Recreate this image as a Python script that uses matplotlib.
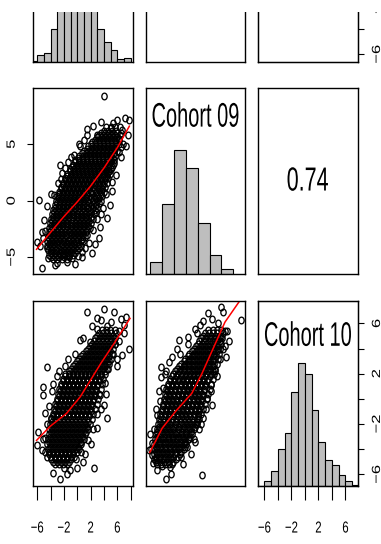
import matplotlib
matplotlib.use('Agg')
import matplotlib.pyplot as plt
from matplotlib import patheffects
from matplotlib.path import Path
from matplotlib.transforms import Affine2D
from matplotlib.patches import Rectangle

plt.rcParams['font.family'] = ['Liberation Sans', 'DejaVu Sans']

W, H = 381, 544

# axis ranges of the three variables
lim08 = (-6.6, 8.3)
lim09x = (-6.8, 10.0)
lim09y = (-6.45, 9.95)
lim10 = (-6.95, 7.78)

# histograms (bar heights relative to the tallest bar)
breaks08 = [-7, -6, -5, -4, -3, -2, -1, 0, 1, 2, 3, 4, 5, 6, 7, 8]
counts08 = [1, 8, 11, 40, 82, 117, 140, 150, 132, 90, 40, 24, 14, 3, 5]
breaks09 = [-6, -4, -2, 0, 2, 4, 6, 8]
counts09 = [32, 185, 330, 283, 134, 51, 12]
breaks10 = [-7, -6, -5, -4, -3, -2, -1, 0, 1, 2, 3, 4, 5, 6, 7, 8]
counts10 = [1, 7, 22, 54, 77, 137, 180, 163, 111, 64, 38, 31, 16, 7, 2]

labels = ['Cohort 08', 'Cohort 09', 'Cohort 10']
corr_09_10 = '0.74'

# Cohort 08 (x) vs Cohort 09 (y): dense core read row by row (y, [x ...])
core_08_09 = [
    (-5.2, [-3.6, -3.0, -2.3, -1.5]),
    (-5.0, [-4.0, -3.3, -2.7, -2.0, -1.2]),
    (-4.8, [-4.3, -3.7, -3.1, -2.4, -1.8, -1.2, -0.6]),
    (-4.6, [-4.0, -3.4, -2.8, -2.1, -1.5, -0.9, -0.3]),
    (-4.4, [-4.4, -3.8, -3.2, -2.5, -1.9, -1.3, -0.6, 0.0]),
    (-4.2, [-4.1, -3.5, -2.9, -2.2, -1.6, -1.0, -0.3, 0.3]),
    (-4.0, [-4.5, -3.9, -3.3, -2.6, -2.0, -1.4, -0.8, -0.1, 0.5]),
    (-3.8, [-4.2, -3.6, -3.0, -2.3, -1.7, -1.1, -0.5, 0.2]),
    (-3.6, [-4.6, -3.9, -3.3, -2.7, -2.1, -1.4, -0.8, -0.2, 0.5, 0.9]),
    (-3.4, [-4.3, -3.6, -3.0, -2.4, -1.8, -1.1, -0.5, 0.1, 0.7]),
    (-3.2, [-4.4, -3.8, -3.2, -2.6, -2.0, -1.4, -0.7, -0.1, 0.5, 1.2]),
    (-3.0, [-4.1, -3.5, -2.9, -2.3, -1.7, -1.0, -0.4, 0.2, 0.8]),
    (-2.8, [-4.3, -3.7, -3.1, -2.5, -1.9, -1.2, -0.6, 0.0, 0.6, 1.3]),
    (-2.6, [-4.0, -3.4, -2.8, -2.2, -1.6, -0.9, -0.3, 0.3, 0.9, 1.5]),
    (-2.4, [-4.2, -3.6, -3.0, -2.4, -1.8, -1.1, -0.5, 0.1, 0.7, 1.3, 1.9]),
    (-2.2, [-3.9, -3.3, -2.7, -2.1, -1.5, -0.8, -0.2, 0.4, 1.0, 1.6]),
    (-2.0, [-4.1, -3.5, -2.9, -2.3, -1.7, -1.0, -0.4, 0.2, 0.8, 1.4, 2.1]),
    (-1.8, [-3.8, -3.2, -2.6, -2.0, -1.4, -0.7, -0.1, 0.5, 1.1, 1.7]),
    (-1.6, [-3.9, -3.3, -2.7, -2.1, -1.5, -0.9, -0.2, 0.4, 1.0, 1.6, 2.4]),
    (-1.4, [-3.6, -3.0, -2.4, -1.8, -1.2, -0.6, 0.1, 0.7, 1.3, 2.0]),
    (-1.2, [-3.8, -3.2, -2.6, -2.0, -1.4, -0.8, -0.1, 0.5, 1.1, 1.7, 2.5]),
    (-1.0, [-3.5, -2.9, -2.3, -1.7, -1.1, -0.5, 0.2, 0.8, 1.4, 2.1, 2.8]),
    (-0.8, [-3.6, -3.0, -2.4, -1.8, -1.2, -0.6, 0.0, 0.6, 1.2, 1.9, 2.6]),
    (-0.6, [-3.3, -2.7, -2.1, -1.5, -0.9, -0.3, 0.3, 0.9, 1.6, 2.3, 3.0]),
    (-0.4, [-3.4, -2.8, -2.2, -1.6, -1.0, -0.4, 0.2, 0.8, 1.4, 2.1, 2.8]),
    (-0.2, [-3.1, -2.5, -1.9, -1.3, -0.7, -0.1, 0.5, 1.1, 1.8, 2.5, 3.2]),
    (0.0, [-3.2, -2.6, -2.0, -1.4, -0.8, -0.2, 0.4, 1.0, 1.6, 2.3, 3.0, 3.5]),
    (0.2, [-2.9, -2.3, -1.7, -1.1, -0.5, 0.1, 0.7, 1.3, 2.0, 2.7, 3.3]),
    (0.4, [-3.0, -2.4, -1.8, -1.2, -0.6, 0.0, 0.6, 1.2, 1.8, 2.5, 3.1, 3.7]),
    (0.6, [-2.7, -2.1, -1.5, -0.9, -0.3, 0.3, 0.9, 1.5, 2.2, 2.9, 3.5]),
    (0.8, [-2.7, -2.1, -1.5, -0.9, -0.3, 0.3, 0.9, 1.5, 2.1, 2.8, 3.4, 4.0]),
    (1.0, [-2.4, -1.8, -1.2, -0.6, 0.0, 0.6, 1.2, 1.8, 2.5, 3.1, 3.7]),
    (1.2, [-2.4, -1.8, -1.2, -0.6, 0.0, 0.6, 1.2, 1.8, 2.4, 3.0, 3.6, 4.2]),
    (1.4, [-2.1, -1.5, -0.9, -0.3, 0.3, 0.9, 1.5, 2.1, 2.7, 3.3, 3.9]),
    (1.6, [-2.1, -1.5, -0.9, -0.3, 0.3, 0.9, 1.5, 2.1, 2.7, 3.3, 3.9, 4.4]),
    (1.8, [-1.8, -1.2, -0.6, 0.0, 0.6, 1.2, 1.8, 2.4, 3.0, 3.6, 4.2]),
    (2.0, [-1.8, -1.2, -0.6, 0.0, 0.6, 1.2, 1.8, 2.4, 3.0, 3.6, 4.2, 4.6]),
    (2.2, [-1.5, -0.9, -0.3, 0.3, 0.9, 1.5, 2.1, 2.7, 3.3, 3.9, 4.5]),
    (2.4, [-1.5, -0.9, -0.3, 0.3, 0.9, 1.5, 2.1, 2.7, 3.3, 3.9, 4.5, 4.9]),
    (2.6, [-1.1, -0.5, 0.1, 0.7, 1.3, 1.9, 2.5, 3.1, 3.7, 4.3, 4.8]),
    (2.8, [-1.1, -0.5, 0.1, 0.7, 1.3, 1.9, 2.5, 3.1, 3.7, 4.3, 5.0]),
    (3.0, [-0.8, -0.2, 0.4, 1.0, 1.6, 2.2, 2.8, 3.4, 4.0, 4.6, 5.2]),
    (3.2, [-0.7, -0.1, 0.5, 1.1, 1.7, 2.3, 2.9, 3.5, 4.1, 4.7, 5.3]),
    (3.4, [-0.4, 0.2, 0.8, 1.4, 2.0, 2.6, 3.2, 3.8, 4.4, 5.0]),
    (3.6, [-0.3, 0.3, 0.9, 1.5, 2.1, 2.7, 3.3, 3.9, 4.5, 5.1, 5.5]),
    (3.8, [0.1, 0.7, 1.3, 1.9, 2.5, 3.1, 3.7, 4.3, 4.9, 5.4]),
    (4.0, [0.3, 0.9, 1.5, 2.1, 2.7, 3.3, 3.9, 4.5, 5.1, 5.7]),
    (4.2, [0.7, 1.3, 1.9, 2.5, 3.1, 3.7, 4.3, 4.9, 5.5]),
    (4.4, [1.0, 1.6, 2.2, 2.8, 3.4, 4.0, 4.6, 5.2, 5.9]),
    (4.6, [1.4, 2.0, 2.6, 3.2, 3.8, 4.4, 5.0, 5.6]),
    (4.8, [1.6, 2.2, 2.8, 3.4, 4.0, 4.6, 5.2, 5.8]),
    (5.0, [2.0, 2.6, 3.2, 3.8, 4.4, 5.0, 5.6, 6.2]),
    (5.2, [2.2, 2.8, 3.4, 4.0, 4.6, 5.2, 5.8]),
    (5.4, [2.6, 3.2, 3.8, 4.4, 5.0, 5.6, 6.3]),
    (5.6, [2.9, 3.5, 4.1, 4.7, 5.3, 5.9]),
    (5.8, [3.3, 3.9, 4.5, 5.1, 5.7, 6.4]),
    (6.0, [3.5, 4.1, 4.7, 5.3, 5.9, 6.6]),
    (6.2, [4.0, 4.6, 5.2, 5.8]),
    (6.5, [4.3, 5.0, 5.7, 6.4]),
]
x_08_09 = [4.07, -5.7, -5.34, -6.1, -4.99, -4.84, 0.7, 2.21, -0.81, -2.07, -4.33,
           4.48, 3.47, 5.74, 1.46, -0.56, -2.32, 6.0, 7.75, 7.6, 6.5, 6.24, 5.48,
           4.98, 2.97, 5.5, 3.9, 3.2, 2.6, 1.5, -4.6, -3.9, -2.9, -2.6, -1.4, 0.4,
           1.0, 6.7, 7.2, 5.3, 6.3, 6.9, 4.7, 5.2, 4.3, 3.6, -5.3, -5.6, -3.0, -1.6,
           0.1, 1.2, -4.6, -5.2, -3.5, -2.5, -1.9, -0.9, 0.2, 1.4, 2.4, 3.6, 5.2, 4.9,
           3.0, 2.3, 1.8, 0.7, -0.4, -3.3, 6.6, 7.3]
y_08_09 = [9.29, 0.06, -5.93, -3.63, -1.71, -2.65, -4.51, -4.66, -5.1, -4.8, -5.04,
           -1.5, -2.3, 2.27, 6.31, 4.04, 2.42, 7.14, 7.14, 5.81, 4.78, 4.34, 4.63,
           6.4, 5.81, 3.3, -0.6, -3.3, -3.8, -3.0, -0.5, 0.6, 1.6, 3.2, 3.4, 4.8,
           5.4, 6.3, 7.3, 6.9, 5.5, 5.0, 2.6, 1.7, 0.6, -1.2, -2.8, -4.0, -5.5, -5.4,
           -4.9, -4.2, -4.2, -3.3, 0.5, 1.9, 2.9, 3.9, 5.0, 5.8, 6.6, 7.0, 0.9, -0.4,
           -1.6, -2.6, -3.7, -5.0, -5.6, -5.7, 3.9, 4.8]
smooth_x_08_09 = [-6.1, -4.0, -2.0, 0.0, 2.0, 4.0, 6.0, 7.8]
smooth_y_08_09 = [-4.3, -2.8, -1.4, -0.1, 1.3, 2.9, 4.7, 6.6]

# Cohort 08 (x) vs Cohort 10 (y)
core_08_10 = [
    (-5.2, [-3.4, -2.8, -2.2, -1.6]),
    (-5.0, [-3.7, -3.1, -2.5, -1.9, -1.3]),
    (-4.8, [-3.9, -3.3, -2.7, -2.1, -1.5, -0.9]),
    (-4.6, [-4.0, -3.4, -2.8, -2.2, -1.6, -1.0, -0.5]),
    (-4.4, [-4.2, -3.6, -3.0, -2.4, -1.8, -1.2, -0.6]),
    (-4.2, [-4.3, -3.7, -3.1, -2.5, -1.9, -1.3, -0.7, -0.1]),
    (-4.0, [-4.4, -3.8, -3.2, -2.6, -2.0, -1.4, -0.8, -0.2, 0.2]),
    (-3.8, [-4.1, -3.5, -2.9, -2.3, -1.7, -1.1, -0.5, 0.1]),
    (-3.6, [-4.5, -3.9, -3.3, -2.7, -2.1, -1.5, -0.9, -0.3, 0.3, 0.6]),
    (-3.4, [-4.2, -3.6, -3.0, -2.4, -1.8, -1.2, -0.6, 0.0, 0.6]),
    (-3.2, [-4.4, -3.8, -3.2, -2.6, -2.0, -1.4, -0.8, -0.2, 0.4, 1.0]),
    (-3.0, [-4.1, -3.5, -2.9, -2.3, -1.7, -1.1, -0.5, 0.1, 0.7]),
    (-2.8, [-4.3, -3.7, -3.1, -2.5, -1.9, -1.3, -0.7, -0.1, 0.5, 1.1]),
    (-2.6, [-4.0, -3.4, -2.8, -2.2, -1.6, -1.0, -0.4, 0.2, 0.8, 1.3]),
    (-2.4, [-4.2, -3.6, -3.0, -2.4, -1.8, -1.2, -0.6, 0.0, 0.6, 1.2, 1.6]),
    (-2.2, [-3.9, -3.3, -2.7, -2.1, -1.5, -0.9, -0.3, 0.3, 0.9, 1.5]),
    (-2.0, [-4.1, -3.5, -2.9, -2.3, -1.7, -1.1, -0.5, 0.1, 0.7, 1.3, 1.9]),
    (-1.8, [-3.8, -3.2, -2.6, -2.0, -1.4, -0.8, -0.2, 0.4, 1.0, 1.6]),
    (-1.6, [-3.9, -3.3, -2.7, -2.1, -1.5, -0.9, -0.3, 0.3, 0.9, 1.5, 2.2]),
    (-1.4, [-3.6, -3.0, -2.4, -1.8, -1.2, -0.6, 0.0, 0.6, 1.2, 1.8]),
    (-1.2, [-3.7, -3.1, -2.5, -1.9, -1.3, -0.7, -0.1, 0.5, 1.1, 1.7, 2.4]),
    (-1.0, [-3.4, -2.8, -2.2, -1.6, -1.0, -0.4, 0.2, 0.8, 1.4, 2.0]),
    (-0.8, [-3.5, -2.9, -2.3, -1.7, -1.1, -0.5, 0.1, 0.7, 1.3, 1.9, 2.6]),
    (-0.6, [-3.2, -2.6, -2.0, -1.4, -0.8, -0.2, 0.4, 1.0, 1.6, 2.2]),
    (-0.4, [-3.3, -2.7, -2.1, -1.5, -0.9, -0.3, 0.3, 0.9, 1.5, 2.1, 2.9]),
    (-0.2, [-3.0, -2.4, -1.8, -1.2, -0.6, 0.0, 0.6, 1.2, 1.8, 2.4]),
    (0.0, [-3.1, -2.5, -1.9, -1.3, -0.7, -0.1, 0.5, 1.1, 1.7, 2.3, 3.1]),
    (0.2, [-2.8, -2.2, -1.6, -1.0, -0.4, 0.2, 0.8, 1.4, 2.0, 2.6]),
    (0.4, [-2.9, -2.3, -1.7, -1.1, -0.5, 0.1, 0.7, 1.3, 1.9, 2.5, 3.3]),
    (0.6, [-2.6, -2.0, -1.4, -0.8, -0.2, 0.4, 1.0, 1.6, 2.2, 2.8]),
    (0.8, [-2.7, -2.1, -1.5, -0.9, -0.3, 0.3, 0.9, 1.5, 2.1, 2.7, 3.5]),
    (1.0, [-2.4, -1.8, -1.2, -0.6, 0.0, 0.6, 1.2, 1.8, 2.4, 3.0]),
    (1.2, [-2.5, -1.9, -1.3, -0.7, -0.1, 0.5, 1.1, 1.7, 2.3, 2.9, 3.7]),
    (1.4, [-2.2, -1.6, -1.0, -0.4, 0.2, 0.8, 1.4, 2.0, 2.6, 3.2]),
    (1.6, [-2.2, -1.6, -1.0, -0.4, 0.2, 0.8, 1.4, 2.0, 2.6, 3.2, 3.9]),
    (1.8, [-1.9, -1.3, -0.7, -0.1, 0.5, 1.1, 1.7, 2.3, 2.9, 3.5]),
    (2.0, [-1.8, -1.2, -0.6, 0.0, 0.6, 1.2, 1.8, 2.4, 3.0, 3.6, 4.2]),
    (2.2, [-1.3, -0.7, -0.1, 0.5, 1.1, 1.7, 2.3, 2.9, 3.5, 4.1]),
    (2.4, [-1.0, -0.4, 0.2, 0.8, 1.4, 2.0, 2.6, 3.2, 3.8, 4.5]),
    (2.6, [-0.6, 0.0, 0.6, 1.2, 1.8, 2.4, 3.0, 3.6, 4.2]),
    (2.8, [-0.3, 0.3, 0.9, 1.5, 2.1, 2.7, 3.3, 3.9, 4.5, 4.8]),
    (3.0, [0.0, 0.6, 1.2, 1.8, 2.4, 3.0, 3.6, 4.2, 4.8]),
    (3.2, [0.3, 0.9, 1.5, 2.1, 2.7, 3.3, 3.9, 4.5, 5.0]),
    (3.4, [0.6, 1.2, 1.8, 2.4, 3.0, 3.6, 4.2, 4.8]),
    (3.6, [0.9, 1.5, 2.1, 2.7, 3.3, 3.9, 4.5, 5.2]),
    (3.8, [1.3, 1.9, 2.5, 3.1, 3.7, 4.3, 4.9]),
    (4.0, [1.6, 2.2, 2.8, 3.4, 4.0, 4.6, 5.4]),
    (4.2, [1.9, 2.5, 3.1, 3.7, 4.3, 4.9]),
    (4.4, [2.2, 2.8, 3.4, 4.0, 4.6, 5.2, 5.6]),
    (4.6, [2.5, 3.1, 3.7, 4.3, 4.9, 5.5]),
    (4.8, [2.7, 3.3, 3.9, 4.5, 5.1, 5.7]),
    (5.0, [3.0, 3.6, 4.2, 4.8, 5.4]),
    (5.2, [3.2, 3.8, 4.4, 5.0, 5.8]),
    (5.5, [3.7, 4.3, 4.9, 5.6]),
]
x_08_10 = [1.46, 4.07, 5.48, 6.49, 7.25, 2.97, 4.4, 0.45, -4.59, -5.09, -5.09, -4.84,
           -5.84, -6.1, -5.34, -3.58, -2.57, -1.06, 2.46, 4.48, 3.97, 6.0, 6.74, 7.75,
           5.6, 1.96, 6.2, 7.0, 5.0, 3.6, -1.8, -3.0, -3.8, -4.3, -4.6, -4.8, -4.5,
           -0.2, 0.5, 1.6, 2.4, 3.0, 3.4, 4.1, 4.6, 5.3, 0.9, -2.0, -4.8, -5.2, -4.0,
           -3.6, -2.8, -1.4, -0.4, 0.8, 2.2, 3.0, 4.3, 3.6, 2.9, 2.0, 1.2, -0.1, -1.5,
           6.3, 5.9, 7.0]
y_08_10 = [6.9, 7.17, 6.9, 6.37, 6.5, 5.58, 5.8, 4.66, 2.55, 0.96, 0.3, -1.15,
           -2.6, -3.65, -4.05, -5.9, -6.37, -5.64, -5.5, -1.54, -0.49, 3.2, 3.47, 4.0,
           4.4, 4.5, 5.4, 5.9, 6.1, 6.3, 2.6, 1.8, 0.6, -0.6, -2.0, -3.1, -4.6,
           -4.8, -4.2, -3.3, -2.4, -1.2, 0.3, 1.3, 2.4, 3.6, -5.0, -5.5, -4.2, -3.2,
           -1.5, 1.2, 2.2, 3.2, 3.6, 4.8, 5.8, 6.4, 0.4, -0.8, -2.3, -3.6, -4.4, -5.5,
           -6.0, 4.6, 2.6, 5.2]
smooth_x_08_10 = [-6.1, -4.1, -1.6, 0.45, 2.0, 3.5, 5.5, 7.9]
smooth_y_08_10 = [-3.3, -2.2, -1.15, 0.17, 1.5, 2.8, 4.4, 6.4]

# Cohort 09 (x) vs Cohort 10 (y)
core_09_10 = [
    (-5.2, [-4.9, -4.2, -3.5, -2.8, -2.3]),
    (-5.0, [-5.1, -4.4, -3.7, -3.0, -2.1]),
    (-4.8, [-5.3, -4.6, -3.9, -3.2, -2.5, -1.6]),
    (-4.6, [-5.0, -4.3, -3.6, -2.9, -2.2, -1.4]),
    (-4.4, [-5.4, -4.7, -4.0, -3.3, -2.6, -1.9, -1.0]),
    (-4.2, [-5.1, -4.4, -3.7, -3.0, -2.3, -1.6, -0.8]),
    (-4.0, [-5.4, -4.7, -4.0, -3.3, -2.6, -1.9, -1.2, -0.4]),
    (-3.8, [-5.0, -4.3, -3.6, -2.9, -2.2, -1.5, -0.8, -0.2]),
    (-3.6, [-5.3, -4.6, -3.9, -3.2, -2.5, -1.8, -1.1, -0.4, 0.1]),
    (-3.4, [-5.0, -4.3, -3.6, -2.9, -2.2, -1.5, -0.8, -0.1]),
    (-3.2, [-5.2, -4.5, -3.8, -3.1, -2.4, -1.7, -1.0, -0.3, 0.4, 0.6]),
    (-3.0, [-4.9, -4.2, -3.5, -2.8, -2.1, -1.4, -0.7, 0.0, 0.7]),
    (-2.8, [-5.1, -4.4, -3.7, -3.0, -2.3, -1.6, -0.9, -0.2, 0.5, 1.0]),
    (-2.6, [-4.8, -4.1, -3.4, -2.7, -2.0, -1.3, -0.6, 0.1, 0.8]),
    (-2.4, [-4.9, -4.2, -3.5, -2.8, -2.1, -1.4, -0.7, 0.0, 0.7, 1.4]),
    (-2.2, [-4.6, -3.9, -3.2, -2.5, -1.8, -1.1, -0.4, 0.3, 1.0, 1.6]),
    (-2.0, [-4.7, -4.0, -3.3, -2.6, -1.9, -1.2, -0.5, 0.2, 0.9, 1.6, 1.9]),
    (-1.8, [-4.4, -3.7, -3.0, -2.3, -1.6, -0.9, -0.2, 0.5, 1.2, 1.9]),
    (-1.6, [-4.5, -3.8, -3.1, -2.4, -1.7, -1.0, -0.3, 0.4, 1.1, 1.8, 2.3]),
    (-1.4, [-4.2, -3.5, -2.8, -2.1, -1.4, -0.7, 0.0, 0.7, 1.4, 2.1]),
    (-1.2, [-4.3, -3.6, -2.9, -2.2, -1.5, -0.8, -0.1, 0.6, 1.3, 2.0, 2.6]),
    (-1.0, [-4.0, -3.3, -2.6, -1.9, -1.2, -0.5, 0.2, 0.9, 1.6, 2.3]),
    (-0.8, [-4.1, -3.4, -2.7, -2.0, -1.3, -0.6, 0.1, 0.8, 1.5, 2.2, 2.9]),
    (-0.6, [-3.8, -3.1, -2.4, -1.7, -1.0, -0.3, 0.4, 1.1, 1.8, 2.5]),
    (-0.4, [-3.9, -3.2, -2.5, -1.8, -1.1, -0.4, 0.3, 1.0, 1.7, 2.4, 3.2]),
    (-0.2, [-3.6, -2.9, -2.2, -1.5, -0.8, -0.1, 0.6, 1.3, 2.0, 2.7]),
    (0.0, [-3.7, -3.0, -2.3, -1.6, -0.9, -0.2, 0.5, 1.2, 1.9, 2.6, 3.5]),
    (0.2, [-3.4, -2.7, -2.0, -1.3, -0.6, 0.1, 0.8, 1.5, 2.2, 2.9]),
    (0.4, [-3.5, -2.8, -2.1, -1.4, -0.7, 0.0, 0.7, 1.4, 2.1, 2.8, 3.8]),
    (0.6, [-3.2, -2.5, -1.8, -1.1, -0.4, 0.3, 1.0, 1.7, 2.4, 3.1]),
    (0.8, [-3.3, -2.6, -1.9, -1.2, -0.5, 0.2, 0.9, 1.6, 2.3, 3.0, 4.0]),
    (1.0, [-3.0, -2.3, -1.6, -0.9, -0.2, 0.5, 1.2, 1.9, 2.6, 3.3]),
    (1.2, [-3.0, -2.3, -1.6, -0.9, -0.2, 0.5, 1.2, 1.9, 2.6, 3.3, 4.3]),
    (1.4, [-2.7, -2.0, -1.3, -0.6, 0.1, 0.8, 1.5, 2.2, 2.9, 3.6]),
    (1.6, [-2.6, -1.9, -1.2, -0.5, 0.2, 0.9, 1.6, 2.3, 3.0, 3.7, 4.5]),
    (1.8, [-2.3, -1.6, -0.9, -0.2, 0.5, 1.2, 1.9, 2.6, 3.3, 4.0]),
    (2.0, [-2.1, -1.4, -0.7, 0.0, 0.7, 1.4, 2.1, 2.8, 3.5, 4.2, 4.7]),
    (2.2, [-1.8, -1.1, -0.4, 0.3, 1.0, 1.7, 2.4, 3.1, 3.8, 4.5]),
    (2.4, [-1.5, -0.8, -0.1, 0.6, 1.3, 2.0, 2.7, 3.4, 4.1, 5.0]),
    (2.6, [-1.1, -0.4, 0.3, 1.0, 1.7, 2.4, 3.1, 3.8, 4.5]),
    (2.8, [-0.8, -0.1, 0.6, 1.3, 2.0, 2.7, 3.4, 4.1, 4.8, 5.2]),
    (3.0, [-0.4, 0.3, 1.0, 1.7, 2.4, 3.1, 3.8, 4.5]),
    (3.2, [-0.1, 0.6, 1.3, 2.0, 2.7, 3.4, 4.1, 4.8, 5.4]),
    (3.4, [0.3, 1.0, 1.7, 2.4, 3.1, 3.8, 4.5, 5.1]),
    (3.6, [0.6, 1.3, 2.0, 2.7, 3.4, 4.1, 4.8, 5.6]),
    (3.8, [1.0, 1.7, 2.4, 3.1, 3.8, 4.5, 5.2]),
    (4.0, [1.3, 2.0, 2.7, 3.4, 4.1, 4.8, 5.5, 5.8]),
    (4.2, [1.7, 2.4, 3.1, 3.8, 4.5, 5.2]),
    (4.4, [2.0, 2.7, 3.4, 4.1, 4.8, 5.5, 6.0]),
    (4.6, [2.3, 3.0, 3.7, 4.4, 5.1, 5.8]),
    (4.8, [2.6, 3.3, 4.0, 4.7, 5.4, 6.1]),
    (5.0, [2.9, 3.6, 4.3, 5.0, 5.7]),
    (5.2, [3.2, 3.9, 4.6, 5.3, 6.2]),
    (5.5, [3.8, 4.5, 5.2, 5.9]),
]
x_09_10 = [9.34, 6.01, 6.29, 4.35, 1.57, -1.2, -1.48, -4.25, -4.25, 6.84, 4.35, -6.19,
           -4.8, -3.42, 2.68, -5.08, 5.4, 6.6, 7.3, 5.9, 6.3, 2.4, 0.3, -2.3, -3.4,
           -3.8, -4.4, -4.9, -5.4, -5.7, -5.8, -4.0, -2.6, -0.8, 0.2, 1.4, 2.2, 2.9,
           3.6, 4.3, 5.0, 5.8, -5.6, -2.5, -5.9, -6.0, -5.1, -4.6, -3.6, -2.8, -1.0,
           0.4, 1.8, 2.9, 3.8, 5.2, 4.3, 3.4, 2.6, 1.6, 0.8, -0.5, 7.0, 6.6]
y_09_10 = [6.3, 7.3, 6.9, 6.37, 5.58, 4.66, 4.0, 2.55, 1.75, 3.34, -0.49, -4.05,
           -5.63, -6.37, -6.03, -4.84, 6.0, 5.4, 4.6, 4.9, 4.0, 5.9, 4.4, 3.3, 2.2,
           0.9, -0.2, -1.3, -2.4, -3.5, -4.5, -5.3, -5.4, -4.6, -3.8, -3.2, -2.4, -1.5,
           0.1, 1.1, 2.2, 3.2, -5.1, -6.0, -4.0, -2.8, -0.8, 0.6, 2.0, 2.9, 3.6,
           4.9, 5.2, 6.2, 6.8, 1.8, 0.6, -0.8, -2.0, -3.4, -4.4, -5.2, 5.4, 4.2]
smooth_x_09_10 = [-6.1, -4.0, -1.75, 1.0, 2.7, 4.6, 6.6, 9.06]
smooth_y_09_10 = [-4.26, -2.33, -1.0, 0.44, 2.0, 4.0, 6.1, 7.77]

# panel geometry in pixels
col_left = [33.2, 145.6, 258.0]
row_top = [-123.6, 88.3, 301.0]
PW, PH = 99.5, 185.3


class Stretch(patheffects.AbstractPathEffect):
    """The reference picture is stretched upwards; stretch glyphs the same way."""

    def __init__(self, sy):
        super().__init__()
        self.sy = sy

    def draw_path(self, renderer, gc, tpath, affine, rgbFace=None):
        box = tpath.get_extents(affine)
        cy = (box.y0 + box.y1) / 2
        extra = Affine2D().translate(0, -cy).scale(1, self.sy).translate(0, cy)
        renderer.draw_path(gc, tpath, affine + extra, rgbFace)


fig = plt.figure(figsize=(W / 100, H / 100), dpi=100)
ring = Path.unit_circle().transformed(Affine2D().scale(1.0, 1.25))


def panel(row, col):
    ax = fig.add_axes([col_left[col] / W, 1 - (row_top[row] + PH) / H, PW / W, PH / H])
    ax.set_xticks([])
    ax.set_yticks([])
    for s in ax.spines.values():
        s.set_linewidth(1.0)
    return ax


def hist(ax, breaks, counts, xlim):
    top = max(counts)
    ax.bar(breaks[:-1], [c / top for c in counts],
           width=[b - a for a, b in zip(breaks[:-1], breaks[1:])],
           align='edge', color='#BEBEBE', edgecolor='black', linewidth=0.8)
    ax.set_xlim(xlim)
    ax.set_ylim(0, 1.5)


def scatter(ax, core, xs, ys, sx, sy, xlim, ylim):
    px, py = list(xs), list(ys)
    for yv, row in core:
        for xv in row:
            px.append(xv)
            py.append(yv)
    ax.plot(px, py, linestyle='none', marker=ring, ms=4.8, mfc='none', mec='black', mew=0.95)
    ax.plot(sx, sy, color='red', lw=1.1)
    ax.set_xlim(xlim)
    ax.set_ylim(ylim)


def bottom_axis(ax, ticks, labs):
    ax.set_xticks(ticks, labs)
    ax.tick_params(axis='x', length=10.4, width=0.8, pad=16, labelsize=8.2)
    for t in ax.get_xticklabels():
        t.set_path_effects([Stretch(1.4)])


def side_axis(ax, ticks, labs, right):
    ax.set_yticks(ticks, labs)
    if right:
        ax.yaxis.tick_right()
    ax.tick_params(axis='y', length=4.2, width=0.8, pad=5.5 if right else 7,
                   labelsize=8.5, labelrotation=90)
    for t in ax.get_yticklabels():
        t.set_verticalalignment('center')
        t.set_path_effects([Stretch(1.4)])


ev_lab = ['−6', '', '−2', '', '2', '', '6', '']

# row 1
ax = panel(0, 0)
hist(ax, breaks08, counts08, lim08)
panel(0, 1)
ax = panel(0, 2)
tw = ax.twinx()
tw.set_ylim(lim08)
side_axis(tw, [-6, -4, -2, 0, 2, 4, 6, 8], ev_lab, True)

# row 2
ax = panel(1, 0)
scatter(ax, core_08_09, x_08_09, y_08_09, smooth_x_08_09, smooth_y_08_09, lim08, lim09y)
side_axis(ax, [-5, 0, 5], ['−5', '0', '5'], False)
ax = panel(1, 1)
hist(ax, breaks09, counts09, lim09x)
ax.text(0.5, 0.85, labels[1], transform=ax.transAxes, ha='center', va='center',
        fontsize=14.4, path_effects=[Stretch(1.7)])
ax = panel(1, 2)
ax.text(0.5, 0.5, corr_09_10, transform=ax.transAxes, ha='center', va='center',
        fontsize=15.5, path_effects=[Stretch(1.55)])

# row 3
ax = panel(2, 0)
scatter(ax, core_08_10, x_08_10, y_08_10, smooth_x_08_10, smooth_y_08_10, lim08, lim10)
bottom_axis(ax, [-6, -4, -2, 0, 2, 4, 6, 8], ev_lab)
ax = panel(2, 1)
scatter(ax, core_09_10, x_09_10, y_09_10, smooth_x_09_10, smooth_y_09_10, lim09x, lim10)
ax = panel(2, 2)
hist(ax, breaks10, counts10, lim10)
bottom_axis(ax, [-6, -4, -2, 0, 2, 4, 6], ev_lab[:7])
ax.text(0.5, 0.815, labels[2], transform=ax.transAxes, ha='center', va='center',
        fontsize=14.4, path_effects=[Stretch(1.7)])
tw = ax.twinx()
tw.set_ylim(lim10)
side_axis(tw, [-6, -4, -2, 0, 2, 4, 6], ev_lab[:7], True)

# the picture is cut a little below its top edge
fig.add_artist(Rectangle((0, 1 - 11.7 / H), 1, 11.7 / H, transform=fig.transFigure,
                         facecolor='white', edgecolor='none', zorder=100))

fig.savefig('out.png', dpi=100)
